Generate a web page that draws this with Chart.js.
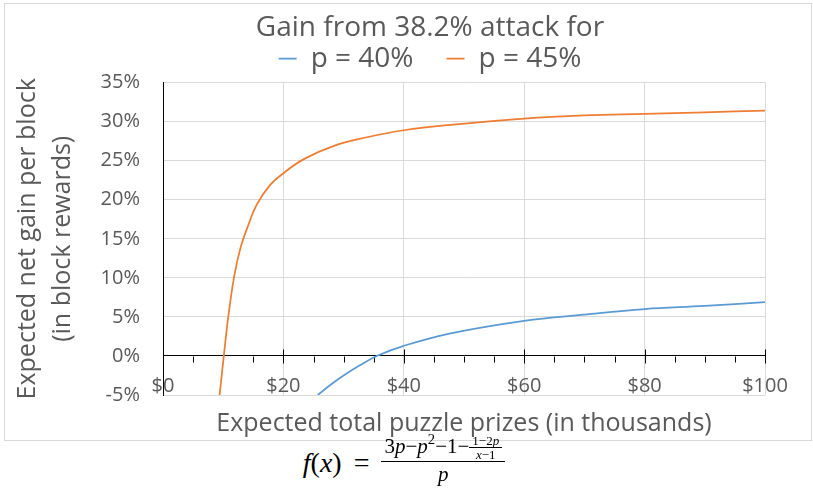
<!DOCTYPE html>
<html>
<head>
<meta charset="utf-8">
<title>Gain from 38.2% attack</title>
<script src="https://cdn.jsdelivr.net/npm/chart.js@4.4.1/dist/chart.umd.min.js"></script>
<style>
  body { margin: 0; background: #fff; }
  #frame { position: absolute; left: 4px; top: 3px; width: 806px; height: 436px; border: 1px solid #d9d9d9; }
  #formula { position: absolute; left: 0; top: 440px; width: 808px; text-align: center; line-height: 1;
             font-family: 'Liberation Serif', 'DejaVu Serif', serif; font-size: 28px; color: #000; }
  .eq { margin: 0 12px 0 12px; }
  .frac { display: inline-flex; flex-direction: column; align-items: center; vertical-align: middle; line-height: 1; }
  .frac > .num { border-bottom: 1px solid #000; padding: 0 3px 1px; }
  .frac > .den { padding-top: 2px; }
  .big { font-size: 21px; position: relative; top: -5px; }
  .small { font-size: 13px; line-height: 0.9; }
  .small > .num { padding-bottom: 0; }
  .small > .den { padding-top: 1px; }
  sup { font-size: 0.7em; line-height: 0; vertical-align: 0.55em; }
</style>
</head>
<body>
<div id="frame"><canvas id="gain-chart" width="806" height="436"></canvas></div>
<div id="formula"><i>f</i>(<i>x</i>)<span class="eq">=</span><span class="frac big"><span class="num">3<i>p</i>−<i>p</i><sup>2</sup>−1−<span class="frac small"><span class="num">1−2<i>p</i></span><span class="den"><i>x</i>−1</span></span></span><span class="den"><i>p</i></span></span></div>
<script>
"use strict";

// expected total puzzle prizes (thousands of $) and net gain (% of block reward)
var prizesP40 = [25.7, 28, 30, 32.5, 35.5, 40, 47.8, 60, 70, 80, 90, 100];
var gainP40 = [-5.0, -3.6, -2.5, -1.3, 0, 1.3, 2.9, 4.5, 5.3, 6.0, 6.4, 6.9];

var prizesP45 = [9.4, 10.1, 10.5, 10.9, 11.9, 12.9, 14.0, 15.6, 17.8, 20.0, 23.4, 28.4, 33.9, 40, 47.8, 60, 70, 80, 90, 100];
var gainP45 = [-5.0, 0, 2.8, 5.4, 10.5, 13.9, 16.4, 19.4, 21.9, 23.4, 25.2, 26.9, 28.0, 28.9, 29.6, 30.4, 30.8, 31.0, 31.2, 31.4];

var seriesLabels = ['p = 40%', 'p = 45%'];
var seriesColors = ['#5B9BD5', '#ED7D31'];

var xMin = 0, xMax = 100, xStep = 20, xMinorStep = 5;
var yMin = -5, yMax = 35, yStep = 5;

var fontFamily = "'Open Sans', sans-serif";
var textColor = '#595959';
var gridColor = '#d9d9d9';

function toPoints(xs, ys) {
    return xs.map(function(x, i) {
        return { x: x, y: ys[i] };
    });
}

// tick marks along the zero line: long ones at labelled values, short ones below
var zeroAxisTicks = {
    id: 'zeroAxisTicks',
    beforeDatasetsDraw: function(chart) {
        var xs = chart.scales.x;
        var y0 = Math.round(chart.scales.y.getPixelForValue(0)) + 0.5;
        var ctx = chart.ctx;
        ctx.save();
        ctx.strokeStyle = '#000';
        ctx.lineWidth = 1;
        ctx.beginPath();
        for (var v = xMin + xMinorStep; v <= xMax; v += xMinorStep) {
            var px = Math.round(xs.getPixelForValue(v)) + 0.5;
            var major = v % xStep === 0;
            ctx.moveTo(px, major ? y0 - 7 : y0);
            ctx.lineTo(px, y0 + (major ? 7 : 6));
        }
        ctx.stroke();
        ctx.restore();
    }
};

var datasets = [
    { label: seriesLabels[0], data: toPoints(prizesP40, gainP40) },
    { label: seriesLabels[1], data: toPoints(prizesP45, gainP45) }
].map(function(ds, i) {
    ds.borderColor = seriesColors[i];
    ds.backgroundColor = seriesColors[i];
    ds.borderWidth = 1.75;
    ds.pointRadius = 0;
    ds.tension = 0.4;
    return ds;
});

new Chart(document.getElementById('gain-chart'), {
    type: 'line',
    data: { datasets: datasets },
    options: {
        responsive: false,
        animation: false,
        devicePixelRatio: 1,
        layout: { padding: { left: 90, right: 46, top: 0, bottom: 0 } },
        plugins: {
            title: {
                display: true,
                text: 'Gain from 38.2% attack for',
                color: textColor,
                font: { family: fontFamily, size: 28, weight: 'normal' },
                padding: { top: 7, bottom: -33 }
            },
            legend: {
                labels: {
                    usePointStyle: true,
                    pointStyle: 'line',
                    pointStyleWidth: 18,
                    padding: 33,
                    color: textColor,
                    font: { family: fontFamily, size: 28 }
                }
            },
            tooltip: { enabled: false }
        },
        scales: {
            x: {
                type: 'linear',
                min: xMin,
                max: xMax,
                afterFit: function(scale) { scale.height = 45; },
                ticks: {
                    stepSize: xStep,
                    mirror: true,
                    padding: -3,
                    color: textColor,
                    font: { family: fontFamily, size: 20 },
                    callback: function(v) { return '$' + v; }
                },
                grid: {
                    color: function(c) { return c.tick.value === 0 ? 'rgba(0,0,0,0)' : gridColor; },
                    drawTicks: false
                },
                border: { display: false },
                title: {
                    display: true,
                    text: 'Expected total puzzle prizes (in thousands)',
                    color: textColor,
                    font: { family: fontFamily, size: 25 },
                    padding: { top: 0, bottom: 1 }
                }
            },
            y: {
                min: yMin,
                max: yMax,
                afterFit: function(scale) { scale.width = 68; },
                ticks: {
                    stepSize: yStep,
                    padding: 23,
                    color: textColor,
                    font: { family: fontFamily, size: 20 },
                    callback: function(v) { return v + '%'; }
                },
                grid: {
                    color: function(c) { return c.tick.value === 0 ? '#000' : gridColor; },
                    drawTicks: false
                },
                border: { color: '#000' },
                title: {
                    display: true,
                    text: ['Expected net gain per block', '(in block rewards)'],
                    color: textColor,
                    font: { family: fontFamily, size: 25, lineHeight: 1.42 },
                    padding: { top: -85, bottom: 0 }
                }
            }
        }
    },
    plugins: [zeroAxisTicks]
});
</script>
</body>
</html>
